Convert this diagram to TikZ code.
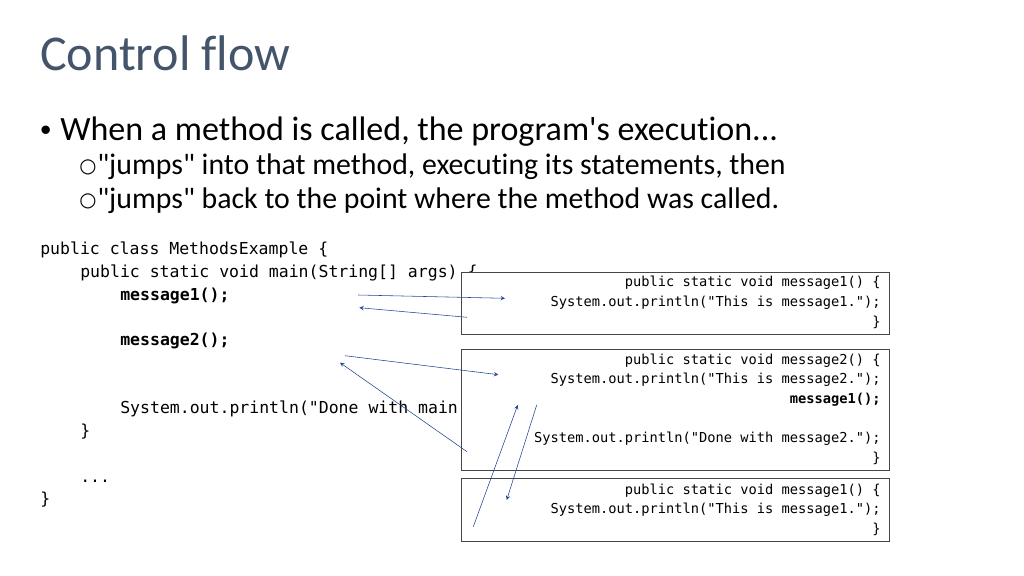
\documentclass[tikz,border=0pt]{standalone}
\usepackage{fontspec}
\setmainfont{Carlito}[Ligatures=NoCommon]
\setmonofont{DejaVu Sans Mono}
\newfontfamily\dotfont{Liberation Sans}
\newfontfamily\ringfont{DejaVu Sans}
\usepackage{tikz}
\usetikzlibrary{arrows,positioning}
\definecolor{cfslate}{RGB}{68,84,106}
\definecolor{cfblue}{RGB}{36,70,150}
\definecolor{cfgray}{RGB}{70,70,70}
\newcommand{\q}{\textquotedbl}
\tikzstyle{title} = [anchor=base west, inner sep=0pt, text=cfslate, font=\fontsize{35.6}{42}\selectfont]
\tikzstyle{bullet} = [anchor=base west, inner sep=0pt, font=\fontsize{24.2}{28}\selectfont]
\tikzstyle{subbullet} = [anchor=base west, inner sep=0pt, font=\fontsize{21.2}{25}\selectfont]
\tikzstyle{ring} = [anchor=base west, inner sep=0pt, font=\ringfont\fontsize{14}{16}\selectfont]
\tikzstyle{code} = [anchor=base west, inner sep=0pt, font=\ttfamily\fontsize{11.73}{14}\selectfont]
\tikzstyle{boxcode} = [anchor=base east, inner sep=0pt, font=\ttfamily\fontsize{9.75}{12}\selectfont]
\tikzstyle{codebox} = [rectangle, anchor=north west, minimum width=10.7cm, draw=cfgray, fill=white, thin, inner sep=0pt]
\tikzstyle{arrow} = [thin,->,>=stealth,color=cfblue]

\begin{document}
\begin{tikzpicture}[x=0.025cm,y=-0.025cm]
\useasboundingbox (0,0) rectangle (1024,576);

% Title
\node[title] (head) at (40,71) {Control flow};

% Bullets
\node[bullet, font=\dotfont\fontsize{22}{26}\selectfont] (dot) at (40,141) {•};
\node[bullet] (when) at (60,141) {When a method is called, the program\textquotesingle s execution...};
\node[ring] (o1) at (79,173) {○};
\node[subbullet] (jumpin) at (97,175) {\q jumps\q{} into that method, executing its statements, then};
\node[ring] (o2) at (79,207) {○};
\node[subbullet] (jumpback) at (97,209) {\q jumps\q{} back to the point where the method was called.};

% Main program
\node[code] (cls) at (40,255) {public class MethodsExample \{};
\node[code] (mainsig) at (80,277.7) {public static void main(String[] args) \{};
\node[code] (callone) at (120,300.4) {\bfseries message1();};
\node[code] (calltwo) at (120,345.8) {\bfseries message2();};
\node[code] (donemain) at (120,413.9) {System.out.println("Done with main.");};
\node[code] (mainend) at (80,436.6) {\}};
\node[code] (dots) at (80,482) {...};
\node[code] (clsend) at (40,504.7) {\}};

% Method boxes
\node[codebox, minimum height=1.55cm] (boxA) at (461,272) {};
\node[codebox, minimum height=3.025cm] (boxB) at (461,349) {};
\node[codebox, minimum height=1.575cm] (boxC) at (461,478) {};

% message1
\node[boxcode] (aSig) at (881,287) {public static void message1() \{};
\node[boxcode] (aPrint) at (881,306.6) {System.out.println("This is message1.");};
\node[boxcode] (aEnd) at (881,326.2) {\}};

% message2
\node[boxcode] (bSig) at (881,364) {public static void message2() \{};
\node[boxcode] (bPrint) at (881,383.6) {System.out.println("This is message2.");};
\node[boxcode] (bCall) at (881,403.2) {\bfseries message1();};
\node[boxcode] (bDone) at (881,442.4) {System.out.println("Done with message2.");};
\node[boxcode] (bEnd) at (881,462) {\}};

% message1 again
\node[boxcode] (cSig) at (881,494) {public static void message1() \{};
\node[boxcode] (cPrint) at (881,513.6) {System.out.println("This is message1.");};
\node[boxcode] (cEnd) at (881,533.2) {\}};

% Jump points
\coordinate (goA) at (358,295);
\coordinate (inA) at (505,298.3);
\coordinate (outA) at (467,317.3);
\coordinate (backA) at (359.3,307.7);
\coordinate (goB) at (345,355.7);
\coordinate (inB) at (498.3,374.7);
\coordinate (outB) at (467,451.7);
\coordinate (backB) at (340,362.7);
\coordinate (goC) at (536.7,405);
\coordinate (inC) at (506.7,500);
\coordinate (outC) at (473.3,526.7);
\coordinate (backC) at (517.7,405);

% Arrows
\draw[arrow] (goA) -- (inA);
\draw[arrow] (outA) -- (backA);
\draw[arrow] (goB) -- (inB);
\draw[arrow] (outB) -- (backB);
\draw[arrow] (goC) -- (inC);
\draw[arrow] (outC) -- (backC);
\end{tikzpicture}
\end{document}
